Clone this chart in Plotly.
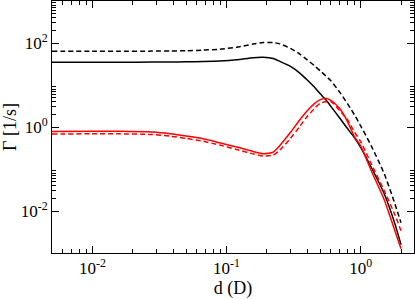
import numpy as np
import plotly.graph_objects as go

# distance d (D)
d = [0.005, 0.01, 0.016, 0.028, 0.038, 0.05, 0.067, 0.089, 0.119, 0.158, 0.188, 0.223, 0.25,
     0.3, 0.35, 0.4, 0.45, 0.5, 0.55, 0.6, 0.7, 0.8, 0.9, 1.0, 1.2, 1.5, 1.8, 2.0]

# rates Gamma [1/s]
black_solid = [34.9, 34.9, 34.9, 35.1, 35.2, 35.6, 36.3, 37.3, 39.8, 44.7, 45.7, 42.7, 36.5,
               27.7, 19.5, 13.2, 9.04, 6.15, 4.44, 3.10, 1.61, 0.906, 0.553, 0.329,
               0.110, 0.0257, 0.00501, 0.00158]
black_dashed = [63.8, 63.8, 63.8, 64.1, 64.6, 65.3, 67.6, 71.1, 79.4, 94.4, 102.8, 102.3, 95.3,
                74.5, 55.1, 39.6, 29.3, 21.7, 16.5, 12.6, 6.68, 3.56, 1.95, 1.069,
                0.357, 0.0771, 0.0149, 0.00525]
red_solid = [0.785, 0.794, 0.794, 0.757, 0.689, 0.608, 0.524, 0.421, 0.333, 0.261, 0.231, 0.253, 0.363,
             0.748, 1.442, 2.427, 3.565, 4.487, 4.864, 4.315, 2.710, 1.330, 0.585, 0.357,
             0.0912, 0.0186, 0.00339, 0.00126]
red_dashed = [0.684, 0.687, 0.687, 0.661, 0.603, 0.537, 0.457, 0.372, 0.292, 0.229, 0.204, 0.214, 0.282,
              0.537, 1.012, 1.786, 2.710, 3.664, 3.981, 4.036, 2.427, 1.466, 0.757, 0.450,
              0.133, 0.0304, 0.00817, 0.00339]

x_major = [0.01, 0.1, 1.0]
x_major_text = ["10<sup>-2</sup>", "10<sup>-1</sup>", "10<sup>0</sup>"]
y_major = [0.01, 1.0, 100.0]
y_major_text = ["10<sup>-2</sup>", "10<sup>0</sup>", "10<sup>2</sup>"]

x_minor = [m * 10.0 ** e for e in (-3, -2, -1, 0) for m in range(2, 10)]
y_minor = [m * 10.0 ** e for e in (-2, 0, 2) for m in range(2, 10)]

fig = go.Figure()
series = [
    (black_dashed, "black", "5px,3px"),
    (black_solid, "black", "solid"),
    (red_dashed, "#ff0000", "5px,3px"),
    (red_solid, "#ff0000", "solid"),
]
for ys, col, dash in series:
    fig.add_trace(go.Scatter(x=d, y=ys, mode="lines",
                             line=dict(color=col, width=1.5, dash=dash, shape="spline", smoothing=0.6),
                             showlegend=False, hoverinfo="skip"))

font_fam = "Liberation Serif, Times New Roman, serif"
axis_common = dict(
    type="log", showgrid=False, zeroline=False, showline=True, linecolor="black",
    linewidth=1, mirror="allticks", ticks="inside", ticklen=7, tickwidth=1,
    tickcolor="black", tickfont=dict(family=font_fam, size=17, color="black"),
    automargin=False,
)

fig.update_layout(
    width=415, height=299,
    margin=dict(l=52, r=1, t=1, b=46),
    paper_bgcolor="white", plot_bgcolor="white",
    xaxis=dict(**axis_common, range=[np.log10(0.005), np.log10(2.5)],
               tickmode="array", tickvals=x_major, ticktext=x_major_text,
               minor=dict(tickvals=x_minor, ticks="inside", ticklen=4, tickcolor="black", tickwidth=1),
               title=dict(text="d (D)", font=dict(family=font_fam, size=18, color="black"), standoff=2)),
    yaxis=dict(**axis_common, range=[-3, 3],
               tickmode="array", tickvals=y_major, ticktext=y_major_text,
               minor=dict(tickvals=y_minor, ticks="inside", ticklen=4, tickcolor="black", tickwidth=1),
               title=dict(text="Γ [1/s]", font=dict(family=font_fam, size=18, color="black"), standoff=0)),
)

fig.write_html("out.html", config={"displayModeBar": False},
               post_script="document.body.style.margin='0';document.body.style.overflow='hidden';")
